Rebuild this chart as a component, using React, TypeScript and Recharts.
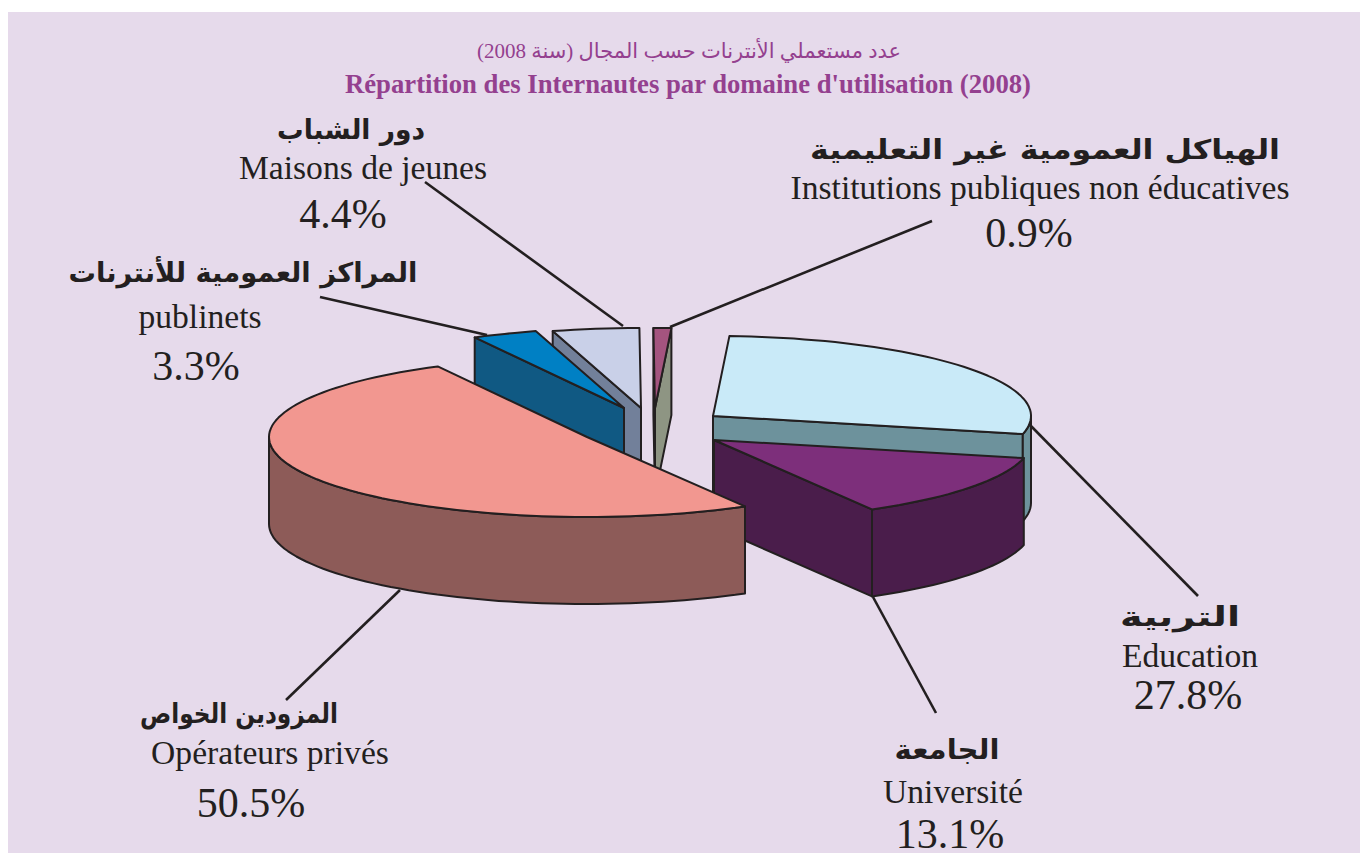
import React from "react";
import { PieChart, Pie } from "recharts";

const categories = ["publinets", "Maisons de jeunes", "Institutions publiques non éducatives", "Education", "Université", "Opérateurs privés"];
const shares = [3.3, 4.4, 0.9, 27.8, 13.1, 50.5];
const arabicNames = ["المراكز العمومية للأنترنات", "دور الشباب", "الهياكل  العمومية غير التعليمية", "التربية", "الجامعة", "المزودين الخواص"];
const titleArabic = "عدد مستعملي الأنترنات حسب المجال (سنة 2008)";
const titleFrench = "Répartition des Internautes par domaine d'utilisation (2008)";
const backSlices = ["Maisons de jeunes", "Institutions publiques non éducatives"];

const W = 1352, H = 841, OX = 8, OY = 12;
const TILT = 80 / 318, DEPTH = 87;
const SERIF = '"Liberation Serif","Times New Roman",serif';
const INK = "#231F20";
const TITLE_COLOR = "#94408F";

type Look = { dx: number; dy: number; top: string; wall: string; startWall?: string };
const looks: Record<string, Look> = {
  "publinets": { dx: -16, dy: 0, top: "#0080C4", wall: "#105983" },
  "Maisons de jeunes": { dx: 1, dy: 0, top: "#C9D0E8", wall: "#72809A" },
  "Institutions publiques non éducatives": { dx: 15, dy: 0, top: "#A4547F", wall: "#8E9583", startWall: "#6B3A5C" },
  "Education": { dx: 73, dy: 8, top: "#C9EAF8", wall: "#6D929C" },
  "Université": { dx: 74, dy: 32, top: "#7D2F7B", wall: "#4A1D4B" },
  "Opérateurs privés": { dx: -53, dy: 29, top: "#F29790", wall: "#8D5B58" },
};

type Place = { ar: [number, number]; arWidth: number; la: [number, number]; pc: [number, number]; line: [number, number, number, number] };
const places: Record<string, Place> = {
  "publinets": { ar: [243, 282], arWidth: 349, la: [200, 328], pc: [196, 380], line: [320, 297, 487, 335] },
  "Maisons de jeunes": { ar: [351, 139], arWidth: 148, la: [363, 179], pc: [343, 228], line: [425, 182, 623, 326] },
  "Institutions publiques non éducatives": { ar: [1045, 159], arWidth: 470, la: [1040, 199], pc: [1029, 247], line: [932, 221, 670, 327] },
  "Education": { ar: [1180, 626], arWidth: 120, la: [1190, 667], pc: [1188, 709], line: [1030, 425, 1198, 596] },
  "Université": { ar: [947, 759], arWidth: 105, la: [953, 803], pc: [950, 848], line: [873, 597, 936, 713] },
  "Opérateurs privés": { ar: [239, 723], arWidth: 198, la: [270, 764], pc: [251, 817], line: [400, 590, 286, 700] },
};

const data = categories.map((name, i) => ({ name, value: shares[i], arabic: arabicNames[i] }));
const rad = (d: number) => (d * Math.PI) / 180;

function Slice3D(props: any) {
  const { cx, cy, outerRadius, startAngle, endAngle, name } = props;
  const look = looks[name];
  const ox = cx + look.dx, oy = cy + look.dy;
  const rx = outerRadius, ry = outerRadius * TILT;
  const pt = (a: number, drop = 0): [number, number] => [ox + rx * Math.cos(rad(a)), oy - ry * Math.sin(rad(a)) + drop];
  const fmt = (p: [number, number]) => `${p[0].toFixed(1)},${p[1].toFixed(1)}`;
  const sweep = (from: number, to: number, drop = 0) => {
    const n = Math.max(2, Math.ceil(Math.abs(to - from) / 2));
    const out: [number, number][] = [];
    for (let i = 0; i <= n; i++) out.push(pt(from + ((to - from) * i) / n, drop));
    return out;
  };
  const apex: [number, number] = [ox, oy];
  const apexLow: [number, number] = [ox, oy + DEPTH];
  const face = (a: number) => [apex, pt(a), pt(a, DEPTH), apexLow].map(fmt).join(" ");
  const startVisible = Math.sin(rad(startAngle + 90)) < 0;
  const endVisible = Math.sin(rad(endAngle - 90)) < 0;
  const hi = Math.min(startAngle, 0), lo = Math.max(endAngle, -180);
  const rim = hi > lo ? [...sweep(hi, lo), ...sweep(lo, hi, DEPTH)].map(fmt).join(" ") : null;
  const top = [apex, ...sweep(startAngle, endAngle)].map(fmt).join(" ");
  const edge = { stroke: INK, strokeWidth: 2, strokeLinejoin: "round" as const };
  return (
    <g>
      {startVisible && <polygon points={face(startAngle)} fill={look.startWall ?? look.wall} {...edge} />}
      {endVisible && <polygon points={face(endAngle)} fill={look.wall} {...edge} />}
      {rim && <polygon points={rim} fill={look.wall} {...edge} />}
      <polygon points={top} fill={look.top} {...edge} />
    </g>
  );
}

const BackSlice = (props: any) => (backSlices.includes(props.name) ? <Slice3D {...props} /> : <g />);
const FrontSlice = (props: any) => (backSlices.includes(props.name) ? <g /> : <Slice3D {...props} />);

function SliceLabel(props: any) {
  const { name, value, payload } = props;
  const place = places[name];
  const [x1, y1, x2, y2] = place.line;
  return (
    <g>
      <line x1={x1 - OX} y1={y1 - OY} x2={x2 - OX} y2={y2 - OY} stroke={INK} strokeWidth={2.6} />
      <text
        x={place.ar[0] - OX}
        y={place.ar[1] - OY}
        textAnchor="middle"
        direction="rtl"
        fill={INK}
        fontFamily='"DejaVu Sans"'
        fontWeight={700}
        fontSize={27}
        textLength={place.arWidth}
        lengthAdjust="spacingAndGlyphs"
      >
        {payload?.arabic}
      </text>
      <text x={place.la[0] - OX} y={place.la[1] - OY} textAnchor="middle" fill={INK} fontFamily={SERIF} fontSize={33.6}>
        {name}
      </text>
      <text x={place.pc[0] - OX} y={place.pc[1] - OY} textAnchor="middle" fill={INK} fontFamily={SERIF} fontSize={42}>
        {`${Number(value).toFixed(1)}%`}
      </text>
    </g>
  );
}

const pieProps = {
  data,
  dataKey: "value",
  nameKey: "name",
  cx: 640 - OX,
  cy: 408 - OY,
  innerRadius: 0,
  outerRadius: 318,
  startAngle: 118,
  endAngle: -242,
  isAnimationActive: false,
};

export default function App() {
  return (
    <div style={{ position: "absolute", left: OX, top: OY, width: W, height: H, background: "#E6DAEB", overflow: "hidden" }}>
      <PieChart width={W} height={H} margin={{ top: 0, right: 0, bottom: 0, left: 0 }}>
        <text x={689 - OX} y={58 - OY} textAnchor="middle" direction="rtl" fill={TITLE_COLOR} fontFamily={SERIF + ',"DejaVu Sans"'} fontSize={21}>
          {titleArabic}
        </text>
        <text x={688 - OX} y={93 - OY} textAnchor="middle" fill={TITLE_COLOR} fontFamily={SERIF} fontWeight={700} fontSize={26.7}>
          {titleFrench}
        </text>
        <Pie {...pieProps} shape={BackSlice} label={false} labelLine={false} />
        <Pie {...pieProps} shape={FrontSlice} label={SliceLabel} labelLine={false} />
      </PieChart>
    </div>
  );
}
